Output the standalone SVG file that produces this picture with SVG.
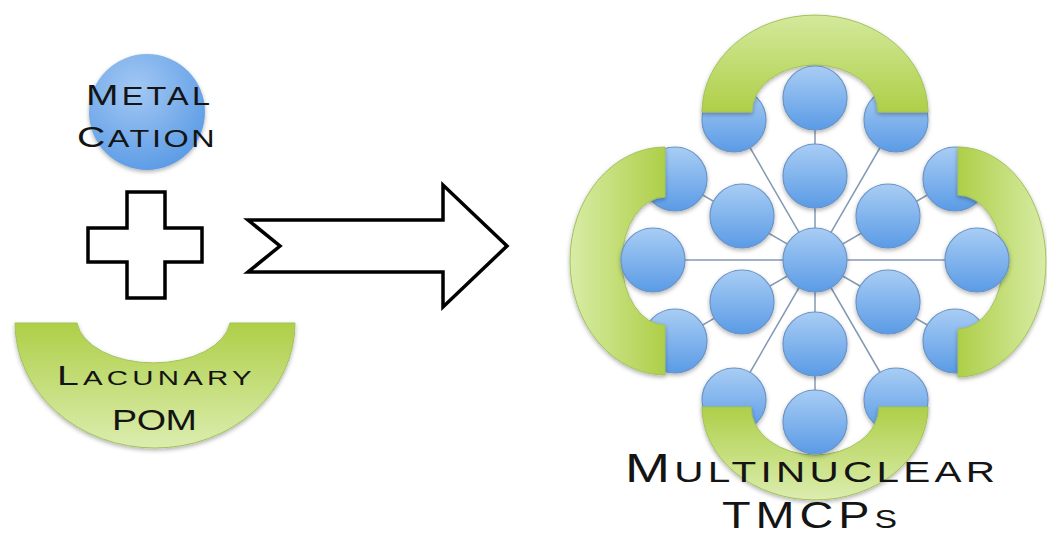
<svg xmlns="http://www.w3.org/2000/svg" width="1047" height="536" viewBox="0 0 1047 536">
  <style>
    .lbl { font-family: "Liberation Sans", Arial, sans-serif; fill: #141414; }
    .node { fill: url(#ballFill); stroke: #6a94c6; stroke-width: 1.2; filter: url(#soft); }
    .arc { stroke: #a3c25a; stroke-width: 1; filter: url(#soft); }
    .bond { stroke: #8499b4; stroke-width: 1.5; fill: none; }
    .outline { fill: #ffffff; stroke: #000000; stroke-width: 3.5; stroke-linejoin: miter; }
  </style>
  <defs>
    <filter id="soft" x="-20%" y="-20%" width="140%" height="150%">
      <feDropShadow dx="0" dy="2" stdDeviation="2" flood-color="#000" flood-opacity="0.3"/>
    </filter>
    <linearGradient id="ballFill" x1="0" y1="0" x2="0" y2="1">
      <stop offset="0" stop-color="#a9cdf4"/>
      <stop offset="1" stop-color="#5a9be6"/>
    </linearGradient>
    <radialGradient id="cationFill" cx="0.4" cy="0.3" r="0.8">
      <stop offset="0" stop-color="#a3c8f3"/>
      <stop offset="1" stop-color="#5597e4"/>
    </radialGradient>
    <!-- green block arcs: saturated at the open side, pale at the outer curve -->
    <linearGradient id="greenUp" x1="0" y1="1" x2="0" y2="0">
      <stop offset="0" stop-color="#aecf48"/>
      <stop offset="1" stop-color="#d4e99c"/>
    </linearGradient>
    <linearGradient id="greenDown" x1="0" y1="0" x2="0" y2="1">
      <stop offset="0" stop-color="#aecf48"/>
      <stop offset="1" stop-color="#dcedaf"/>
    </linearGradient>
    <linearGradient id="greenLeft" x1="1" y1="0" x2="0" y2="0">
      <stop offset="0" stop-color="#aecf48"/>
      <stop offset="1" stop-color="#d8eca6"/>
    </linearGradient>
    <linearGradient id="greenRight" x1="0" y1="0" x2="1" y2="0">
      <stop offset="0" stop-color="#aecf48"/>
      <stop offset="1" stop-color="#d8eca6"/>
    </linearGradient>
  </defs>

  <!-- reactants -->
  <g id="metal-cation">
    <circle cx="147" cy="112" r="58" fill="url(#cationFill)" filter="url(#soft)"/>
    <text class="lbl" transform="translate(86,105) scale(1.3,1)" textLength="95.4" lengthAdjust="spacing"><tspan font-size="30">M</tspan><tspan font-size="25">ETAL</tspan></text>
    <text class="lbl" transform="translate(77,147) scale(1.35,1)" textLength="102" lengthAdjust="spacing"><tspan font-size="29">C</tspan><tspan font-size="24">ATION</tspan></text>
  </g>

  <g id="plus">
    <path class="outline" d="M127,192 H165 V228 H202 V262 H165 V298 H127 V262 H88 V228 H127 Z"/>
  </g>

  <g id="lacunary-pom">
    <path class="arc" fill="url(#greenDown)" d="M15,323 A140,125 0 0 0 295,323 L230,323 A77,45 0 0 1 77,323 Z"/>
    <text class="lbl" transform="translate(57,385) scale(1.4,1)" textLength="139" lengthAdjust="spacing"><tspan font-size="28">L</tspan><tspan font-size="21">ACUNARY</tspan></text>
    <text class="lbl" transform="translate(112,430) scale(1.3,1)" textLength="65.4" lengthAdjust="spacing" font-size="29">POM</text>
  </g>

  <g id="reaction-arrow">
    <path class="outline" d="M248,220 H443 V185 L507,246 L443,307 V272 H248 L280,246 Z"/>
  </g>

  <!-- product cluster -->
  <g id="connectors">
    <line class="bond" x1="815" y1="260" x2="977" y2="260"/>
    <line class="bond" x1="815" y1="260" x2="955" y2="179"/>
    <line class="bond" x1="815" y1="260" x2="896" y2="120"/>
    <line class="bond" x1="815" y1="260" x2="815" y2="98"/>
    <line class="bond" x1="815" y1="260" x2="734" y2="120"/>
    <line class="bond" x1="815" y1="260" x2="675" y2="179"/>
    <line class="bond" x1="815" y1="260" x2="653" y2="260"/>
    <line class="bond" x1="815" y1="260" x2="675" y2="341"/>
    <line class="bond" x1="815" y1="260" x2="734" y2="400"/>
    <line class="bond" x1="815" y1="260" x2="815" y2="422"/>
    <line class="bond" x1="815" y1="260" x2="896" y2="400"/>
    <line class="bond" x1="815" y1="260" x2="955" y2="341"/>
  </g>

  <g id="inner-nodes">
    <circle class="node" cx="815" cy="260" r="32"/>
    <circle class="node" cx="888" cy="216" r="32"/>
    <circle class="node" cx="815" cy="176" r="32"/>
    <circle class="node" cx="742" cy="216" r="32"/>
    <circle class="node" cx="742" cy="302" r="32"/>
    <circle class="node" cx="815" cy="344" r="32"/>
    <circle class="node" cx="888" cy="302" r="32"/>
  </g>

  <g id="capped-nodes">
    <circle class="node" cx="955" cy="179" r="32"/>
    <circle class="node" cx="896" cy="120" r="32"/>
    <circle class="node" cx="734" cy="120" r="32"/>
    <circle class="node" cx="675" cy="179" r="32"/>
    <circle class="node" cx="675" cy="341" r="32"/>
    <circle class="node" cx="734" cy="400" r="32"/>
    <circle class="node" cx="896" cy="400" r="32"/>
    <circle class="node" cx="955" cy="341" r="32"/>
  </g>

  <g id="pom-top">
    <path class="arc" fill="url(#greenUp)" d="M702,112 A113,97 0 0 1 928,112 L878,112 A63,47 0 0 0 752,112 Z"/>
  </g>
  <g id="pom-left">
    <path class="arc" fill="url(#greenLeft)" d="M665,147 A95,114 0 0 0 665,375 L665,325 A43,64 0 0 1 665,197 Z"/>
  </g>
  <g id="pom-right">
    <path class="arc" fill="url(#greenRight)" d="M958,147 A88,115 0 0 1 958,377 L958,329 A45,67 0 0 0 958,195 Z"/>
  </g>
  <g id="pom-bottom">
    <path class="arc" fill="url(#greenDown)" d="M702,407 A113,93 0 0 0 928,407 L879,407 A64,48 0 0 1 751,407 Z"/>
  </g>

  <g id="axis-nodes">
    <circle class="node" cx="815" cy="98" r="32"/>
    <circle class="node" cx="653" cy="260" r="32"/>
    <circle class="node" cx="977" cy="260" r="32"/>
    <circle class="node" cx="815" cy="422" r="32"/>
  </g>

  <g id="product-label">
    <text class="lbl" transform="translate(625,482) scale(1.35,1)" textLength="274" lengthAdjust="spacing"><tspan font-size="40">M</tspan><tspan font-size="30">ULTINUCLEAR</tspan></text>
    <text class="lbl" transform="translate(722,528) scale(1.3,1)" textLength="134.6" lengthAdjust="spacing"><tspan font-size="36">TMCP</tspan><tspan font-size="26">S</tspan></text>
  </g>
</svg>
